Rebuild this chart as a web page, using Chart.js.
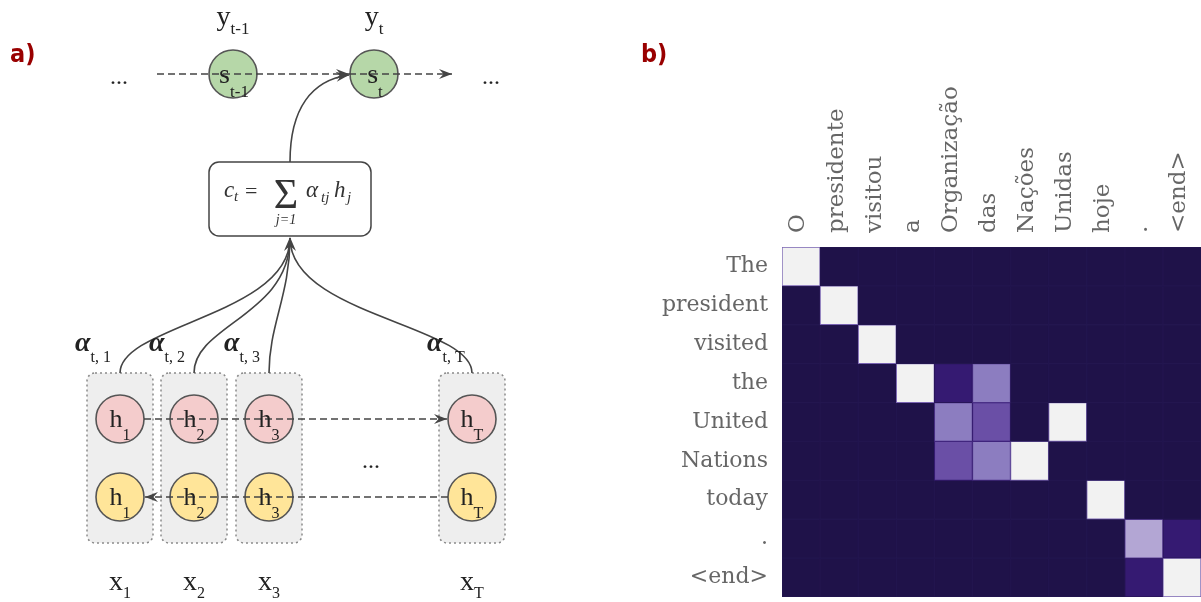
<!DOCTYPE html>
<html>
<head>
<meta charset="utf-8">
<script src="https://cdn.jsdelivr.net/npm/chart.js@4.4.1/dist/chart.umd.min.js"></script>
<style>
  body { margin: 0; background: #fff; }
  #diagram { position: absolute; left: 0; top: 0; }
  #heatmap { position: absolute; left: 600px; top: 0; }
</style>
</head>
<body>
<canvas id="diagram" width="600" height="602"></canvas>
<canvas id="heatmap" width="601" height="602"></canvas>
<script>
// source sentence (columns) and translated sentence (rows)
const sourceTokens = ['O', 'presidente', 'visitou', 'a', 'Organização', 'das', 'Nações', 'Unidas', 'hoje', '.', '<end>'];
const targetTokens = ['The', 'president', 'visited', 'the', 'United', 'Nations', 'today', '.', '<end>'];

// attention weights, one row per target token
const attention = [
  [1, 0, 0, 0, 0, 0, 0, 0, 0, 0, 0],
  [0, 1, 0, 0, 0, 0, 0, 0, 0, 0, 0],
  [0, 0, 1, 0, 0, 0, 0, 0, 0, 0, 0],
  [0, 0, 0, 1, 0.12, 0.5, 0, 0, 0, 0, 0],
  [0, 0, 0, 0, 0.5, 0.32, 0, 1, 0, 0, 0],
  [0, 0, 0, 0, 0.32, 0.5, 1, 0, 0, 0, 0],
  [0, 0, 0, 0, 0, 0, 0, 0, 1, 0, 0],
  [0, 0, 0, 0, 0, 0, 0, 0, 0, 0.65, 0.12],
  [0, 0, 0, 0, 0, 0, 0, 0, 0, 0.12, 1],
];

// dark purple -> light grey colour map
const colorStops = [
  [0, '#1f1249'],
  [0.12, '#351a72'],
  [0.32, '#6a4fa6'],
  [0.5, '#8c7dc0'],
  [0.65, '#b3a6d4'],
  [1, '#f2f2f2'],
];

// encoder / decoder node positions for the diagram
const encoderX = [120, 194, 269, 472];
const encoderSub = ['1', '2', '3', 'T'];
const forwardY = 419;
const backwardY = 497;
const decoderX = [233, 374];
const decoderSub = ['t-1', 't'];
const decoderY = 74;

const SERIF = "'Liberation Serif', 'DejaVu Serif', serif";
const LABEL_FONT = "'DejaVu Serif', serif";
const PANEL_FONT = "bold 25px 'Liberation Sans Narrow', 'DejaVu Sans Condensed', sans-serif";
const INK = '#222';
const LINE = '#444';

function hexToRgb(h) {
  const n = parseInt(h.slice(1), 16);
  return [n >> 16, (n >> 8) & 255, n & 255];
}

function weightColor(v) {
  for (let i = 1; i < colorStops.length; i++) {
    const [v1, c1] = colorStops[i];
    if (v <= v1) {
      const [v0, c0] = colorStops[i - 1];
      const t = (v - v0) / (v1 - v0);
      const a = hexToRgb(c0), b = hexToRgb(c1);
      return 'rgb(' + a.map((x, k) => Math.round(x + (b[k] - x) * t)).join(',') + ')';
    }
  }
  return colorStops[colorStops.length - 1][1];
}

function roundRect(ctx, x, y, w, h, r) {
  ctx.beginPath();
  ctx.moveTo(x + r, y);
  ctx.arcTo(x + w, y, x + w, y + h, r);
  ctx.arcTo(x + w, y + h, x, y + h, r);
  ctx.arcTo(x, y + h, x, y, r);
  ctx.arcTo(x, y, x + w, y, r);
  ctx.closePath();
}

function arrowHead(ctx, x, y, angle, len = 13, half = 5) {
  ctx.save();
  ctx.translate(x, y);
  ctx.rotate(angle);
  ctx.setLineDash([]);
  ctx.beginPath();
  ctx.moveTo(0, 0);
  ctx.lineTo(-len, -half);
  ctx.lineTo(-len * 0.65, 0);
  ctx.lineTo(-len, half);
  ctx.closePath();
  ctx.fill();
  ctx.restore();
}

// letter with a subscript, centred on x when centred is set
function subText(ctx, main, sub, x, y, mainFont, subFont, subDy, centred) {
  ctx.font = mainFont;
  const w = ctx.measureText(main).width;
  ctx.font = subFont;
  const ws = ctx.measureText(sub).width;
  const left = centred ? x - (w + ws) / 2 : x;
  ctx.font = mainFont;
  ctx.fillText(main, left, y);
  ctx.font = subFont;
  ctx.fillText(sub, left + w, y + subDy);
}

function dashedArrow(ctx, x0, y0, x1, y1) {
  ctx.save();
  ctx.strokeStyle = LINE;
  ctx.fillStyle = LINE;
  ctx.lineWidth = 1.6;
  ctx.setLineDash([7, 4]);
  ctx.beginPath();
  ctx.moveTo(x0, y0);
  ctx.lineTo(x1, y1);
  ctx.stroke();
  arrowHead(ctx, x1, y1, Math.atan2(y1 - y0, x1 - x0));
  ctx.restore();
}

const diagramPlugin = {
  id: 'diagram',
  beforeDatasetsDraw(chart) {
    const ctx = chart.ctx;
    const X = v => chart.scales.x.getPixelForValue(v);
    const Y = v => chart.scales.y.getPixelForValue(v);
    ctx.save();

    // one shaded column per encoder step
    encoderX.forEach(x => {
      roundRect(ctx, X(x) - 33, Y(373), 66, 170, 8);
      ctx.fillStyle = '#eeeeee';
      ctx.fill();
      ctx.setLineDash([2, 3]);
      ctx.strokeStyle = '#8a8a8a';
      ctx.lineWidth = 1.5;
      ctx.stroke();
    });
    ctx.setLineDash([]);

    // context vector box
    roundRect(ctx, X(209), Y(162), 162, 74, 10);
    ctx.fillStyle = '#fff';
    ctx.fill();
    ctx.strokeStyle = LINE;
    ctx.lineWidth = 1.5;
    ctx.stroke();

    // attention weights flowing into the context box
    ctx.strokeStyle = LINE;
    ctx.lineWidth = 1.6;
    encoderX.forEach((x, i) => {
      const c2 = i === 2 ? 295 : 315;
      ctx.beginPath();
      ctx.moveTo(X(x), Y(373));
      ctx.bezierCurveTo(X(x), Y(325), X(290), Y(c2), X(290), Y(238));
      ctx.stroke();
    });
    ctx.fillStyle = LINE;
    arrowHead(ctx, X(290), Y(237), -Math.PI / 2, 14, 6);

    // context vector into the decoder state
    ctx.beginPath();
    ctx.moveTo(X(290), Y(162));
    ctx.bezierCurveTo(X(290), Y(108), X(312), Y(80), X(349), Y(75));
    ctx.stroke();
    arrowHead(ctx, X(349), Y(75), Math.atan2(75 - 80, 349 - 312));
    ctx.restore();
  },
  afterDatasetsDraw(chart) {
    const ctx = chart.ctx;
    const X = v => chart.scales.x.getPixelForValue(v);
    const Y = v => chart.scales.y.getPixelForValue(v);
    ctx.save();

    // recurrent connections
    dashedArrow(ctx, X(157), Y(decoderY), X(decoderX[1]) - 25, Y(decoderY));
    dashedArrow(ctx, X(decoderX[1]) - 25, Y(decoderY), X(452), Y(decoderY));
    dashedArrow(ctx, X(encoderX[0]) + 24, Y(forwardY), X(encoderX[3]) - 25, Y(forwardY));
    dashedArrow(ctx, X(encoderX[3]) - 24, Y(backwardY), X(encoderX[0]) + 25, Y(backwardY));

    ctx.fillStyle = INK;
    ctx.textAlign = 'left';
    ctx.textBaseline = 'alphabetic';

    decoderX.forEach((x, i) => {
      subText(ctx, 's', decoderSub[i], X(x) + 1, Y(decoderY) + 9, `28px ${SERIF}`, `17px ${SERIF}`, 14, true);
      subText(ctx, 'y', decoderSub[i], X(x), Y(25), `28px ${SERIF}`, `17px ${SERIF}`, 9, true);
    });

    encoderX.forEach((x, i) => {
      subText(ctx, 'h', encoderSub[i], X(x), Y(forwardY) + 8, `26px ${SERIF}`, `16px ${SERIF}`, 13, true);
      subText(ctx, 'h', encoderSub[i], X(x), Y(backwardY) + 8, `26px ${SERIF}`, `16px ${SERIF}`, 13, true);
      subText(ctx, 'x', encoderSub[i], X(x), Y(590), `28px ${SERIF}`, `16px ${SERIF}`, 8, true);
      subText(ctx, 'α', 't, ' + encoderSub[i], X(x) - 45, Y(351), `italic bold 28px ${SERIF}`, `16px ${SERIF}`, 11, false);
    });

    // ellipses
    ctx.font = `24px ${SERIF}`;
    ctx.textAlign = 'center';
    ctx.fillText('...', X(119), Y(84));
    ctx.fillText('...', X(491), Y(84));
    ctx.fillText('...', X(371), Y(468));

    // c_t = sum_j alpha_tj h_j
    ctx.textAlign = 'left';
    ctx.fillStyle = '#333';
    ctx.font = `italic 23px ${SERIF}`;
    ctx.fillText('c', X(224), Y(197));
    ctx.font = `italic 15px ${SERIF}`;
    ctx.fillText('t', X(234), Y(201));
    ctx.font = `22px ${SERIF}`;
    ctx.fillText('=', X(245), Y(198));
    ctx.font = `42px ${SERIF}`;
    ctx.textAlign = 'center';
    ctx.fillText('Σ', X(286), Y(208));
    ctx.font = `italic 14px ${SERIF}`;
    ctx.fillText('j=1', X(286), Y(224));
    ctx.textAlign = 'left';
    ctx.font = `italic 23px ${SERIF}`;
    ctx.fillText('α', X(306), Y(197));
    ctx.font = `italic 15px ${SERIF}`;
    ctx.fillText('tj', X(321), Y(202));
    ctx.font = `italic 23px ${SERIF}`;
    ctx.fillText('h', X(334), Y(197));
    ctx.font = `italic 15px ${SERIF}`;
    ctx.fillText('j', X(347), Y(202));

    ctx.fillStyle = '#990000';
    ctx.font = PANEL_FONT;
    ctx.fillText('a)', 10, 62);
    ctx.restore();
  },
};

new Chart(document.getElementById('diagram'), {
  type: 'scatter',
  data: {
    datasets: [
      { data: decoderX.map(x => ({ x, y: decoderY })), backgroundColor: '#b6d7a8' },
      { data: encoderX.map(x => ({ x, y: forwardY })), backgroundColor: '#f4cccc' },
      { data: encoderX.map(x => ({ x, y: backwardY })), backgroundColor: '#ffe599' },
    ],
  },
  options: {
    responsive: false,
    animation: false,
    events: [],
    layout: { autoPadding: false, padding: 0 },
    elements: { point: { radius: 24, hoverRadius: 24, borderWidth: 1.6, borderColor: '#555' } },
    scales: {
      x: { type: 'linear', display: false, min: 0, max: 600 },
      y: { type: 'linear', display: false, min: 0, max: 602, reverse: true },
    },
    plugins: { legend: { display: false }, tooltip: { enabled: false } },
  },
  plugins: [diagramPlugin],
});

// panel letter plus a dark backing behind the cells so no seams show between them
const heatmapExtras = {
  id: 'heatmapExtras',
  beforeDatasetsDraw(chart) {
    const { ctx, chartArea: a } = chart;
    ctx.save();
    ctx.fillStyle = colorStops[0][1];
    ctx.fillRect(a.left, a.top, a.right - a.left, a.bottom - a.top);
    ctx.restore();
  },
  afterDraw(chart) {
    const ctx = chart.ctx;
    ctx.save();
    ctx.fillStyle = '#990000';
    ctx.font = PANEL_FONT;
    ctx.textAlign = 'left';
    ctx.fillText('b)', 41, 62);
    ctx.restore();
  },
};

new Chart(document.getElementById('heatmap'), {
  type: 'bar',
  data: {
    labels: sourceTokens,
    datasets: targetTokens.map((token, r) => ({
      label: token,
      data: attention[r].map(() => [r, r + 1]),
      backgroundColor: attention[r].map(weightColor),
      borderColor: attention[r].map(v => (v > 0 ? weightColor(v * 0.4) : '#23164f')),
      borderWidth: 1,
      borderSkipped: false,
      grouped: false,
      barPercentage: 1,
      categoryPercentage: 1,
    })),
  },
  options: {
    responsive: false,
    animation: false,
    events: [],
    layout: { padding: { top: 0, right: 0, bottom: 5, left: 0 } },
    plugins: { legend: { display: false }, tooltip: { enabled: false } },
    scales: {
      x: {
        position: 'top',
        offset: true,
        grid: { display: false, drawTicks: false },
        border: { display: false },
        ticks: {
          autoSkip: false, minRotation: 90, maxRotation: 90, padding: 14, labelOffset: 25,
          color: '#666', font: { family: LABEL_FONT, size: 23 },
        },
        afterFit: axis => { axis.height = 247; },
      },
      y: {
        type: 'linear',
        min: 0,
        max: 9,
        reverse: true,
        grid: { display: false, drawTicks: false },
        border: { display: false },
        afterBuildTicks: axis => { axis.ticks = targetTokens.map((_, i) => ({ value: i + 0.5 })); },
        ticks: { callback: (v, i) => targetTokens[i], padding: 14, color: '#666', font: { family: LABEL_FONT, size: 22 } },
        afterFit: axis => {
          axis.width = 182;
          axis.paddingTop = 0;
          axis.paddingBottom = 0;
        },
      },
    },
  },
  plugins: [heatmapExtras],
});
</script>
</body>
</html>
